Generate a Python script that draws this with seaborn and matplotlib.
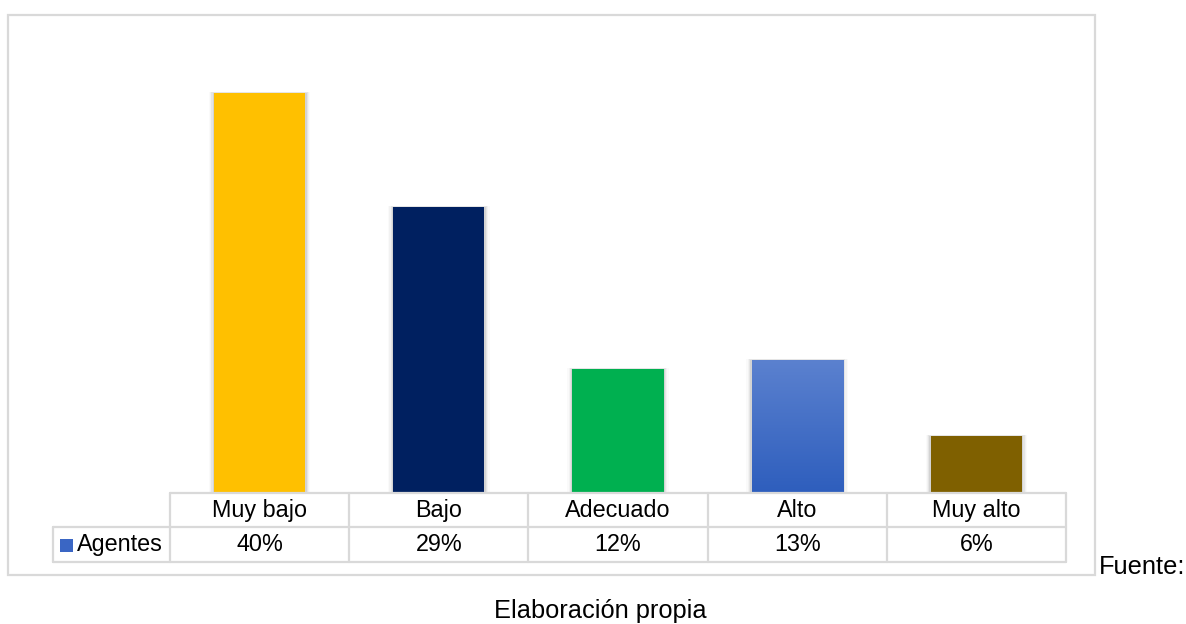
import numpy as np
import matplotlib
matplotlib.use("Agg")
import matplotlib.pyplot as plt
import matplotlib.transforms as mtransforms
from matplotlib.patches import Rectangle
from matplotlib.lines import Line2D
from matplotlib.colors import LinearSegmentedColormap
import pandas as pd
import seaborn as sns

categories = ["Muy bajo", "Bajo", "Adecuado", "Alto", "Muy alto"]
values = [40.0, 28.6, 12.4, 13.3, 5.7]
series_name = "Agentes"
bar_colors = ["#FFC000", "#002060", "#00B050", "#4472C4", "#7F6000"]
footer_right = "Fuente:"
footer_bottom = "Elaboración propia"

sns.set_theme(style="white")
plt.rcParams["font.family"] = ["Liberation Sans", "DejaVu Sans"]

W, H = 1186, 624
fig = plt.figure(figsize=(W / 100, H / 100), dpi=100)
fig.patch.set_facecolor("white")

def fx(x):
    return x / W

def fy(y):
    return 1 - y / H

grid_c = "#D9D9D9"

# outer chart border
fig.add_artist(Rectangle((fx(8), fy(575)), fx(1095) - fx(8), fy(15) - fy(575),
                         transform=fig.transFigure, fill=False, edgecolor=grid_c, lw=1.6))

ax = fig.add_axes([fx(170), fy(493), fx(1066) - fx(170), fy(40) - fy(493)])
df = pd.DataFrame({"cat": categories, "val": values})
sns.barplot(data=df, x="cat", y="val", hue="cat", palette=bar_colors, legend=False,
            width=0.51, ax=ax, saturation=1.0, edgecolor="none", zorder=3)
ax.set_xlim(-0.5, len(categories) - 0.5)
ax.set_ylim(0, 45.3)
ax.axis("off")

# soft shadows and gradient for the "Alto" bar
bars = list(ax.patches)
for i, p in enumerate(bars):
    x0, w, h = p.get_x(), p.get_width(), p.get_height()
    for k, a in enumerate([0.07, 0.05, 0.03, 0.02]):
        d = 0.007 * (k + 1)
        ax.add_patch(Rectangle((x0 - d, 0), w + 2 * d, h + d * 4, facecolor="#000000",
                               alpha=a, edgecolor="none", zorder=2))
    if categories[i] == "Alto":
        grad = np.linspace(0, 1, 256).reshape(-1, 1)
        cmap = LinearSegmentedColormap.from_list("g", ["#2E5EBD", "#5B81CF"])
        im = ax.imshow(grad, aspect="auto", cmap=cmap, origin="lower",
                       extent=[x0, x0 + w, 0, h], zorder=4)
        im.set_clip_path(p)
ax.set_xlim(-0.5, len(categories) - 0.5)
ax.set_ylim(0, 45.3)

# data table below the bars
bt = mtransforms.blended_transform_factory(ax.transData, fig.transFigure)
n = len(categories)
xl = -0.5 - (170 - 53) / (896 / n)
lw = 1.6
y_top, y_mid, y_bot = fy(493), fy(527), fy(562)
lines = [
    ([-0.5, n - 0.5], [y_top, y_top]),
    ([xl, n - 0.5], [y_mid, y_mid]),
    ([xl, n - 0.5], [y_bot, y_bot]),
    ([xl, xl], [y_mid, y_bot]),
]
for b in range(n + 1):
    lines.append(([b - 0.5, b - 0.5], [y_top, y_bot]))
for xs, ys in lines:
    fig.add_artist(Line2D(xs, ys, transform=bt, color=grid_c, lw=lw, zorder=5))

fs = 16.8
for i, (c, v) in enumerate(zip(categories, values)):
    fig.text(i, fy(517), c, transform=bt, ha="center", va="baseline", fontsize=fs, color="#000000")
    fig.text(i, fy(551), f"{round(v):d}%", transform=bt, ha="center", va="baseline",
             fontsize=fs, color="#000000")

fig.add_artist(Rectangle((fx(60), fy(552)), fx(73) - fx(60), fy(539) - fy(552),
                         transform=fig.transFigure, facecolor="#3A66C4", edgecolor="none"))
fig.text(fx(77), fy(551), series_name, ha="left", va="baseline", fontsize=fs, color="#000000")

fs2 = 18.3
fig.text(fx(1099), fy(574), footer_right, ha="left", va="baseline", fontsize=fs2, color="#000000")
fig.text(fx(600), fy(618), footer_bottom, ha="center", va="baseline", fontsize=fs2, color="#000000")

fig.savefig("out.png", dpi=100, facecolor="white")
